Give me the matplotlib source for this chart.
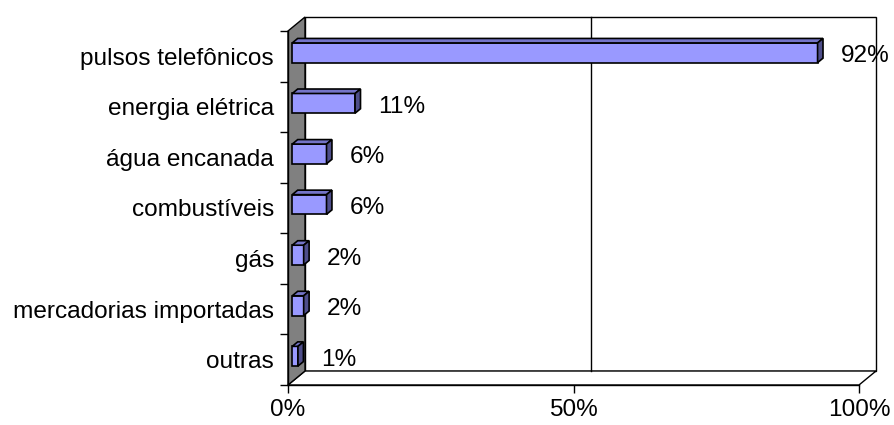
import numpy as np
import matplotlib
matplotlib.use("Agg")
from matplotlib import pyplot as plt
from matplotlib.patches import Polygon
from matplotlib.transforms import IdentityTransform

categorias = ["pulsos telefônicos", "energia elétrica", "água encanada",
              "combustíveis", "gás", "mercadorias importadas", "outras"]
percentuais = [92, 11, 6, 6, 2, 2, 1]
ticks_x = [0, 50, 100]
rotulos_x = ["0%", "50%", "100%"]

# depth of the box in pixels and bar placement inside it (fractions of depth)
DX, DY = 17, 14
BAR_D0, BAR_D1 = 0.25, 0.57
BAR_H = 0.39

FRENTE = "#9999ff"
TOPO = "#7474c8"
LADO = "#4e4e8a"

plt.rcParams["font.family"] = ["Liberation Sans", "DejaVu Sans"]
plt.rcParams["font.size"] = 17.6

W, H = 894, 425
fig = plt.figure(figsize=(W / 100, H / 100), dpi=100)
ax = fig.add_axes([288 / W, (H - 385) / H, (859 - 288) / W, (385 - 31) / H])
ax.set_xlim(0, 100)
ax.set_ylim(len(categorias), 0)
ax.patch.set_visible(False)
for s in ["top", "right"]:
    ax.spines[s].set_visible(False)
ax.spines["left"].set_linewidth(1)
ax.spines["bottom"].set_linewidth(1)

n = len(categorias)


def pt(v, c, d):
    """data point on the front plane pushed back by depth fraction d"""
    x, y = ax.transData.transform((v, c))
    return (x + d * DX, y + d * DY)


def face(verts, color, z, lw=1.0):
    ax.add_patch(Polygon(verts, closed=True, facecolor=color, edgecolor="black",
                         linewidth=lw, transform=IdentityTransform(), zorder=z,
                         clip_on=False))


# back wall, floor, side wall
face([pt(0, n, 1), pt(100, n, 1), pt(100, 0, 1), pt(0, 0, 1)], "white", 1)
face([pt(0, n, 0), pt(100, n, 0), pt(100, n, 1), pt(0, n, 1)], "white", 1)
face([pt(0, n, 0), pt(0, 0, 0), pt(0, 0, 1), pt(0, n, 1)], "#808080", 1)

# gridline on the back wall
for v in ticks_x[1:-1]:
    a, b = pt(v, n, 1), pt(v, 0, 1)
    ax.plot([a[0], b[0]], [a[1], b[1]], color="black", lw=1,
            transform=IdentityTransform(), zorder=1.5, clip_on=False)

# bars
for i, v in enumerate(percentuais):
    y0, y1 = i + 0.5 + BAR_H / 2, i + 0.5 - BAR_H / 2
    face([pt(0, y0, BAR_D0), pt(v, y0, BAR_D0), pt(v, y1, BAR_D0), pt(0, y1, BAR_D0)], FRENTE, 3, 1.2)
    face([pt(0, y1, BAR_D0), pt(v, y1, BAR_D0), pt(v, y1, BAR_D1), pt(0, y1, BAR_D1)], TOPO, 3, 1.2)
    face([pt(v, y0, BAR_D0), pt(v, y1, BAR_D0), pt(v, y1, BAR_D1), pt(v, y0, BAR_D1)], LADO, 3, 1.2)
    ax.annotate(f"{v}%", xy=(v, i + 0.5), xytext=(20, 0), textcoords="offset points",
                ha="left", va="center", zorder=4, annotation_clip=False)

ax.set_xticks(ticks_x)
ax.set_xticklabels(rotulos_x)
ax.tick_params(axis="x", length=5.8, width=1, pad=4.5, direction="out")
ax.set_yticks(np.arange(n + 1))
ax.set_yticklabels([])
ax.set_yticks(np.arange(n) + 0.5, minor=True)
ax.set_yticklabels(categorias, minor=True)
ax.tick_params(axis="y", which="major", length=5.8, width=1, direction="out")
ax.tick_params(axis="y", which="minor", length=0, pad=10)

fig.savefig("out.png", dpi=100)
